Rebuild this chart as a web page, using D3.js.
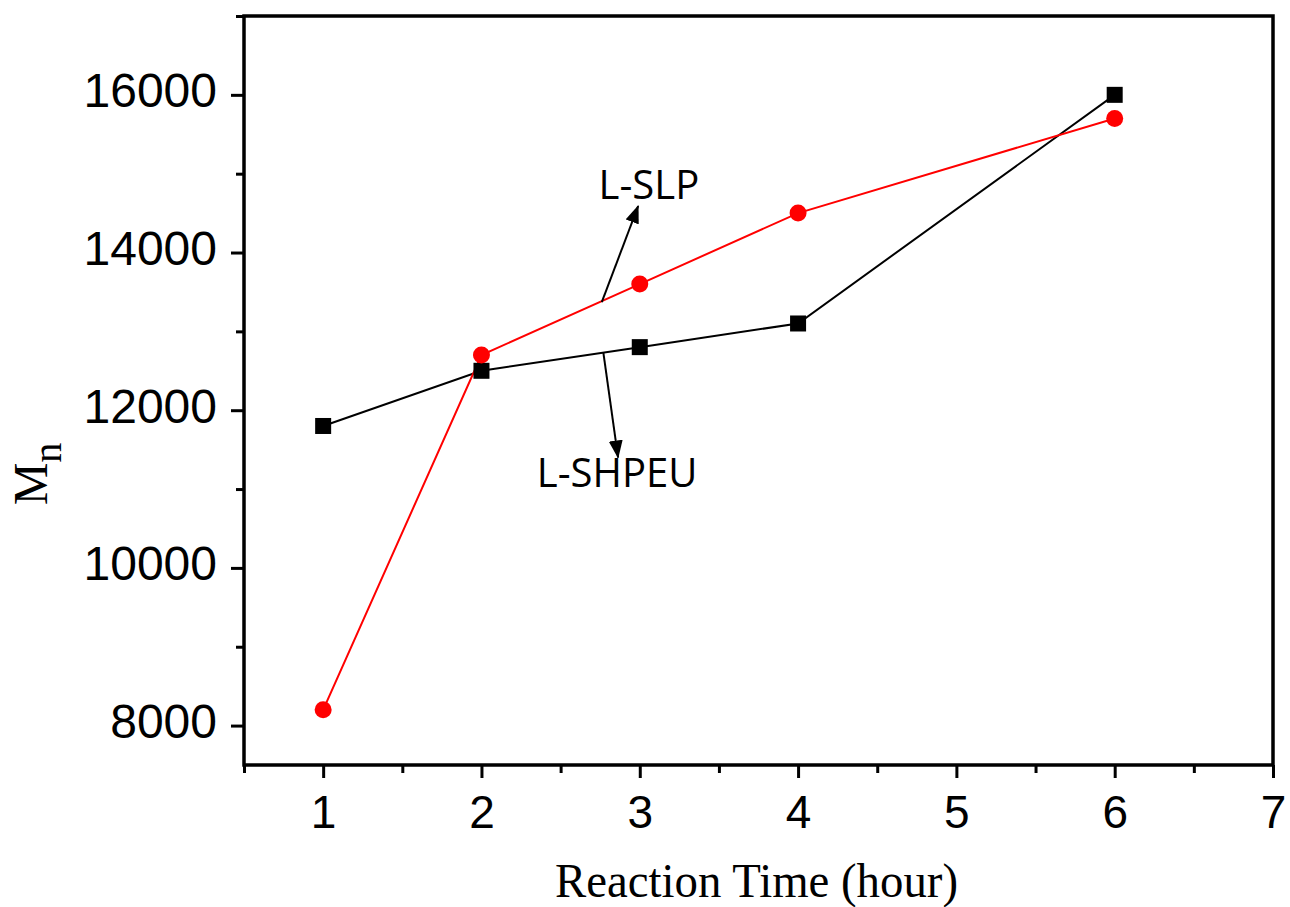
<!DOCTYPE html>
<html>
<head>
<meta charset="utf-8">
<script src="https://cdn.jsdelivr.net/npm/d3@7"></script>
<style>
  body { margin: 0; background: #fff; }
</style>
</head>
<body>
<div id="chart"></div>
<script>
const hours = [1, 2, 3, 4, 6];
const shpeu = [11800, 12500, 12800, 13100, 16000]; // black squares
const slp = [8200, 12700, 13600, 14500, 15700];    // red circles
const xTicks = [1, 2, 3, 4, 5, 6, 7];
const xMinor = [0.5, 1.5, 2.5, 3.5, 4.5, 5.5, 6.5];
const yTicks = [8000, 10000, 12000, 14000, 16000];
const yMinor = [9000, 11000, 13000, 15000, 17000];

const W = 1290, H = 907;
const marginTop = 16, marginLeft = 244, marginRight = 17, marginBottom = 142;
const width = W - marginLeft - marginRight;
const height = H - marginTop - marginBottom;

const svg = d3.select('#chart').append('svg')
    .attr('width', W)
    .attr('height', H);

const g = svg.append('g')
    .attr('transform', `translate(${marginLeft},${marginTop})`);

const x = d3.scaleLinear().domain([0.5, 7]).range([0, width]);
const y = d3.scaleLinear().domain([7500, 17000]).range([height, 0]);

// axes (ticks outward, no top/right ticks)
const xAxis = g.append('g')
    .attr('transform', `translate(0,${height})`)
    .call(d3.axisBottom(x).tickValues(xTicks).tickSize(13).tickFormat(d3.format('d')))
    .call(a => a.select('.domain').remove());
xAxis.selectAll('line').attr('stroke-width', 3);
xAxis.selectAll('text')
    .attr('y', 63).attr('dy', 0)
    .style('font-family', '"Liberation Sans", Arial, sans-serif')
    .style('font-size', '46px')
    .attr('fill', '#000');

g.append('g')
    .attr('transform', `translate(0,${height})`)
    .call(d3.axisBottom(x).tickValues(xMinor).tickSize(8).tickFormat(''))
    .call(a => a.select('.domain').remove())
    .selectAll('line').attr('stroke-width', 3);

const yAxis = g.append('g')
    .call(d3.axisLeft(y).tickValues(yTicks).tickSize(13).tickFormat(d3.format('d')))
    .call(a => a.select('.domain').remove());
yAxis.selectAll('line').attr('stroke-width', 3);
yAxis.selectAll('text')
    .attr('x', -27).attr('dy', 12)
    .style('font-family', '"Liberation Sans", Arial, sans-serif')
    .style('font-size', '48px')
    .attr('fill', '#000');

g.append('g')
    .call(d3.axisLeft(y).tickValues(yMinor).tickSize(8).tickFormat(''))
    .call(a => a.select('.domain').remove())
    .selectAll('line').attr('stroke-width', 3);

// frame
g.append('rect')
    .attr('width', width).attr('height', height)
    .attr('fill', 'none').attr('stroke', '#000').attr('stroke-width', 3.5);

// series lines
const line = d3.line().x((d, i) => x(hours[i])).y(d => y(d));

g.append('path').datum(shpeu)
    .attr('d', line).attr('fill', 'none')
    .attr('stroke', '#000').attr('stroke-width', 2);

g.append('path').datum(slp)
    .attr('d', line).attr('fill', 'none')
    .attr('stroke', '#ff0000').attr('stroke-width', 2);

// markers
const sq = 16;
g.append('g').selectAll('rect')
    .data(shpeu)
    .join('rect')
    .attr('x', (d, i) => x(hours[i]) - sq / 2)
    .attr('y', d => y(d) - sq / 2)
    .attr('width', sq).attr('height', sq)
    .attr('fill', '#000');

g.append('g').selectAll('circle')
    .data(slp)
    .join('circle')
    .attr('cx', (d, i) => x(hours[i]))
    .attr('cy', d => y(d))
    .attr('r', 8.5)
    .attr('fill', '#ff0000');

// annotation arrows
svg.append('defs').append('marker')
    .attr('id', 'arrow')
    .attr('markerUnits', 'userSpaceOnUse')
    .attr('viewBox', '0 0 18 14')
    .attr('refX', 17).attr('refY', 7)
    .attr('markerWidth', 18).attr('markerHeight', 14)
    .attr('orient', 'auto')
    .append('path')
    .attr('d', 'M0,0L18,7L0,14Z')
    .attr('fill', '#000');

// arrow anchors in data units
const arrows = [
    { from: [2.76, 13370], to: [2.99, 14590] },
    { from: [2.77, 12730], to: [2.863, 11400] }
];
g.append('g').selectAll('line')
    .data(arrows)
    .join('line')
    .attr('x1', d => x(d.from[0])).attr('y1', d => y(d.from[1]))
    .attr('x2', d => x(d.to[0])).attr('y2', d => y(d.to[1]))
    .attr('stroke', '#000').attr('stroke-width', 2)
    .attr('marker-end', 'url(#arrow)');

const labels = [
    { text: 'L-SLP', at: [2.74, 14680] },
    { text: 'L-SHPEU', at: [2.35, 11030] }
];
g.append('g').selectAll('text')
    .data(labels)
    .join('text')
    .attr('x', d => x(d.at[0])).attr('y', d => y(d.at[1]))
    .style('font-family', '"Open Sans", sans-serif')
    .style('font-size', '40px')
    .attr('fill', '#000')
    .text(d => d.text);

// axis titles
svg.append('text')
    .attr('x', 555).attr('y', 897)
    .attr('textLength', 403).attr('lengthAdjust', 'spacingAndGlyphs')
    .style('font-family', '"Liberation Serif", "Times New Roman", serif')
    .style('font-size', '48px')
    .attr('fill', '#000')
    .text('Reaction Time (hour)');

const yt = svg.append('text')
    .attr('transform', 'translate(47,474) rotate(-90)')
    .attr('text-anchor', 'middle')
    .style('font-family', '"Liberation Serif", "Times New Roman", serif')
    .style('font-size', '48px')
    .attr('fill', '#000');
yt.append('tspan').text('M');
yt.append('tspan').attr('dy', 14).style('font-size', '40px').text('n');
</script>
</body>
</html>
